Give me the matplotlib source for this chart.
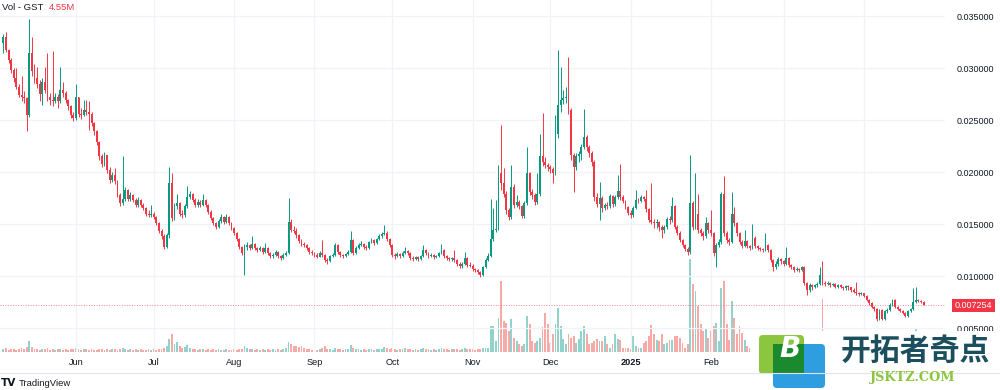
import numpy as np
import pandas as pd
import matplotlib
matplotlib.use("Agg")
import matplotlib.pyplot as plt
import matplotlib.dates as mdates
from matplotlib.patches import Rectangle, FancyBboxPatch

# ---------------- data (daily GST candles, prices in 1e-4 USDT) ----------------
START = "2024-05-04"
PRICE_UNIT = 1e-4
FIRST_OPEN = 324

CLOSE = [
    330, 317, 308, 298, 290, 282, 274, 272, 271, 255,
    314, 297, 290, 285, 275, 287, 279, 272, 269, 268,
    272, 268, 279, 276, 269, 263, 255, 252, 272, 256,
    255, 260, 258, 256, 247, 239, 229, 215, 208, 216,
    202, 192, 197, 191, 178, 170, 174, 183, 174, 178,
    173, 168, 173, 168, 165, 160, 159, 160, 157, 151,
    143, 138, 128, 139, 189, 156, 167, 170, 160, 159,
    167, 176, 179, 173, 168, 171, 168, 173, 168, 162,
    156, 151, 147, 153, 157, 152, 157, 151, 146, 141,
    136, 128, 122, 128, 130, 127, 131, 127, 125, 127,
    123, 127, 122, 119, 120, 123, 119, 117, 120, 122,
    152, 144, 143, 139, 134, 131, 130, 127, 123, 122,
    120, 118, 122, 120, 115, 114, 119, 120, 130, 123,
    120, 119, 121, 123, 135, 122, 127, 130, 131, 128,
    127, 133, 135, 132, 136, 138, 140, 141, 136, 130,
    120, 119, 121, 119, 122, 124, 122, 117, 116, 118,
    116, 119, 125, 122, 119, 120, 118, 119, 122, 125,
    119, 117, 116, 117, 115, 112, 110, 112, 117, 111,
    110, 107, 106, 104, 101, 109, 115, 119, 136, 144,
    145, 199, 189, 179, 163, 157, 186, 168, 171, 167,
    158, 170, 199, 181, 178, 171, 179, 215, 210, 207,
    205, 203, 199, 237, 264, 269, 271, 272, 260, 216,
    205, 215, 217, 224, 234, 224, 218, 210, 176, 169,
    175, 165, 168, 167, 177, 169, 176, 182, 176, 172,
    166, 161, 159, 165, 173, 172, 176, 174, 164, 154,
    152, 151, 152, 147, 144, 147, 155, 154, 167, 147,
    141, 135, 130, 126, 123, 170, 147, 160, 144, 141,
    138, 151, 144, 141, 122, 130, 133, 179, 141, 135,
    133, 160, 151, 141, 133, 129, 134, 129, 127, 137,
    129, 127, 126, 125, 130, 125, 115, 109, 112, 116,
    114, 112, 117, 111, 109, 106, 107, 106, 109, 93,
    87, 91, 89, 91, 92, 101, 93, 92, 93, 91,
    92, 89, 91, 89, 88, 90, 89, 87, 85, 84,
    83, 84, 81, 77, 74, 70, 68, 59, 67, 59,
    66, 67, 72, 77, 70, 68, 66, 64, 62, 66,
    68, 75, 77, 76, 75, 72.54,
]

HIGH = [
    333, 335, 318, 310, 300, 300, 285, 292, 278, 272,
    347, 330, 304, 301, 288, 290, 301, 314, 276, 316,
    276, 275, 301, 287, 278, 270, 264, 258, 285, 272,
    262, 269, 269, 268, 258, 248, 240, 230, 217, 219,
    216, 205, 200, 204, 192, 180, 215, 186, 184, 181,
    179, 175, 176, 174, 170, 166, 163, 168, 162, 158,
    152, 145, 140, 141, 205, 199, 170, 179, 171, 163,
    169, 187, 182, 180, 175, 174, 173, 179, 174, 169,
    163, 157, 152, 155, 160, 158, 160, 158, 152, 147,
    142, 137, 129, 131, 133, 131, 138, 132, 128, 129,
    128, 132, 128, 123, 122, 125, 124, 120, 122, 124,
    175, 155, 148, 146, 140, 136, 133, 131, 128, 125,
    123, 122, 124, 135, 121, 117, 120, 122, 132, 131,
    124, 121, 122, 125, 143, 136, 129, 132, 134, 132,
    130, 134, 137, 136, 137, 140, 142, 149, 143, 137,
    131, 122, 123, 122, 124, 128, 125, 123, 119, 119,
    119, 120, 130, 126, 123, 122, 121, 120, 123, 131,
    126, 120, 118, 118, 125, 116, 113, 113, 123, 118,
    113, 112, 108, 107, 105, 110, 117, 122, 174, 165,
    173, 207, 245, 204, 182, 165, 207, 188, 178, 173,
    168, 172, 224, 200, 184, 180, 199, 237, 257, 214,
    209, 207, 205, 255, 317, 301, 279, 282, 311, 262,
    218, 218, 220, 227, 261, 236, 226, 220, 212, 180,
    190, 177, 170, 171, 179, 178, 178, 197, 208, 178,
    173, 167, 163, 167, 183, 175, 178, 177, 183, 165,
    189, 155, 155, 153, 149, 149, 157, 158, 176, 168,
    149, 143, 136, 131, 128, 216, 172, 199, 179, 146,
    143, 157, 152, 163, 142, 132, 136, 181, 196, 143,
    137, 181, 166, 152, 142, 135, 144, 135, 130, 150,
    138, 130, 128, 127, 141, 131, 126, 116, 114, 118,
    117, 115, 128, 118, 112, 110, 109, 108, 110, 110,
    94, 93, 92, 92, 94, 109, 114, 95, 95, 94,
    93, 93, 92, 92, 90, 91, 91, 89, 88, 94,
    85, 85, 84, 82, 78, 75, 71, 69, 68, 68,
    67, 69, 74, 78, 78, 71, 69, 67, 65, 67,
    69, 88, 89, 78, 77, 76,
]

LOW = [
    314, 315, 305, 295, 287, 280, 272, 268, 266, 239,
    253, 292, 286, 281, 268, 264, 276, 268, 264, 263,
    266, 262, 266, 272, 266, 260, 252, 249, 250, 253,
    251, 254, 255, 240, 244, 236, 226, 212, 205, 206,
    199, 189, 190, 188, 176, 167, 168, 172, 172, 172,
    171, 166, 166, 166, 163, 158, 157, 157, 155, 149,
    141, 136, 126, 127, 137, 153, 154, 164, 158, 156,
    157, 165, 174, 171, 166, 166, 166, 167, 166, 160,
    154, 149, 145, 146, 151, 150, 151, 149, 144, 139,
    134, 126, 120, 101, 125, 125, 126, 125, 123, 124,
    121, 122, 120, 117, 117, 119, 117, 115, 116, 119,
    121, 142, 141, 137, 132, 129, 128, 125, 121, 120,
    118, 117, 118, 118, 113, 112, 113, 118, 119, 121,
    118, 117, 118, 120, 122, 120, 121, 126, 129, 126,
    125, 126, 132, 130, 131, 135, 137, 139, 134, 128,
    118, 116, 118, 117, 118, 121, 120, 115, 114, 115,
    114, 115, 118, 120, 117, 118, 116, 117, 118, 121,
    117, 115, 114, 114, 113, 110, 108, 108, 111, 109,
    109, 105, 104, 102, 99, 100, 108, 114, 118, 134,
    142, 144, 183, 176, 160, 154, 155, 165, 166, 164,
    156, 156, 168, 178, 174, 168, 169, 177, 206, 204,
    201, 199, 189, 197, 233, 258, 265, 266, 256, 212,
    181, 202, 210, 212, 222, 220, 214, 206, 172, 166,
    154, 162, 163, 164, 165, 166, 167, 174, 173, 170,
    164, 159, 156, 157, 164, 170, 171, 172, 162, 152,
    150, 146, 146, 143, 137, 141, 145, 150, 152, 145,
    139, 133, 128, 124, 120, 121, 144, 145, 141, 138,
    135, 137, 141, 138, 119, 109, 128, 131, 138, 132,
    130, 132, 148, 138, 131, 127, 128, 127, 125, 126,
    127, 125, 124, 123, 124, 123, 113, 105, 107, 110,
    112, 110, 111, 109, 107, 104, 105, 104, 105, 91,
    82, 85, 87, 88, 89, 91, 91, 90, 91, 89,
    90, 88, 88, 88, 87, 87, 87, 85, 84, 82,
    81, 82, 80, 76, 72, 69, 66, 57, 58, 58,
    58, 64, 66, 71, 69, 67, 65, 63, 61, 61,
    65, 67, 74, 75, 74, 72,
]

VOLUME_M = [
    3, 4, 2, 3, 3, 2, 3, 4, 3, 5,
    11, 5, 3, 3, 2, 3, 3, 4, 2, 3,
    2, 3, 3, 2, 3, 2, 3, 3, 4, 3,
    2, 3, 3, 2, 3, 2, 2, 3, 3, 2,
    3, 2, 3, 3, 2, 3, 4, 3, 2, 3,
    2, 3, 2, 3, 2, 2, 3, 2, 3, 2,
    3, 3, 4, 6, 13, 18, 8, 10, 6, 4,
    5, 7, 4, 3, 3, 2, 3, 3, 2, 3,
    2, 3, 2, 3, 2, 2, 3, 2, 2, 3,
    2, 3, 3, 6, 4, 3, 3, 2, 3, 2,
    3, 2, 3, 2, 3, 2, 3, 2, 3, 4,
    10, 8, 6, 6, 5, 6, 4, 3, 3, 2,
    3, 2, 3, 4, 6, 3, 3, 2, 4, 3,
    3, 2, 3, 3, 7, 4, 3, 3, 2, 3,
    2, 3, 3, 2, 3, 3, 3, 5, 4, 3,
    4, 3, 2, 3, 3, 4, 3, 3, 2, 3,
    2, 3, 4, 3, 3, 2, 3, 2, 3, 4,
    3, 3, 2, 3, 3, 3, 2, 3, 4, 3,
    3, 3, 2, 3, 3, 4, 4, 4, 26, 26,
    11, 34, 71, 31, 29, 21, 33, 14, 11, 8,
    6, 8, 36, 28, 11, 9, 11, 14, 25, 39,
    28, 9, 18, 28, 44, 26, 13, 8, 18, 14,
    16, 9, 13, 21, 26, 18, 8, 9, 11, 13,
    11, 11, 16, 8, 4, 8, 18, 13, 12, 4,
    4, 4, 3, 16, 6, 4, 4, 9, 11, 16,
    27, 18, 12, 11, 18, 8, 9, 12, 12, 16,
    16, 14, 9, 4, 8, 93, 68, 61, 46, 28,
    21, 23, 14, 21, 26, 29, 11, 64, 71, 28,
    12, 51, 34, 18, 26, 19, 12, 6, 4, 14,
    8, 6, 5, 4, 9, 7, 14, 12, 8, 9,
    6, 5, 11, 7, 5, 6, 4, 4, 5, 18,
    15, 9, 6, 5, 5, 20, 53, 10, 6, 5,
    4, 5, 4, 4, 3, 4, 3, 4, 5, 8,
    5, 4, 5, 7, 8, 9, 7, 12, 10, 9,
    7, 6, 8, 10, 7, 5, 4, 4, 5, 6,
    7, 15, 24, 8, 6, 4.55,
]

MONTH_TICKS = ["2024-06-01", "2024-07-01", "2024-08-01", "2024-09-01",
               "2024-10-01", "2024-11-01", "2024-12-01", "2025-01-01",
               "2025-02-01", "2025-03-01", "2025-04-01"]
# Mar / Apr labels are hidden behind the watermark in the reference
MONTH_LABELS = ["Jun", "Jul", "Aug", "Sep", "Oct", "Nov", "Dec", "2025",
                "Feb", "", ""]
PRICE_TICKS = [0.005, 0.010, 0.015, 0.020, 0.025, 0.030, 0.035]
LAST_PRICE = 0.007254
VOL_TITLE = "Vol - GST"
VOL_LAST = "4.55M"

# ---------------- styling ----------------
UP = "#089981"
DOWN = "#f23645"
UP_VOL = "#92d2cc"
DOWN_VOL = "#f7a9a7"
TEXT = "#131722"
GRID = "#f0f3fa"

plt.rcParams["font.family"] = ["Liberation Sans", "DejaVu Sans"]

n = min(len(CLOSE), len(HIGH), len(LOW), len(VOLUME_M))
close = np.array(CLOSE[:n], dtype=float) * PRICE_UNIT
high = np.array(HIGH[:n], dtype=float) * PRICE_UNIT
low = np.array(LOW[:n], dtype=float) * PRICE_UNIT
vol = np.array(VOLUME_M[:n], dtype=float)
open_ = np.concatenate([[FIRST_OPEN * PRICE_UNIT], close[:-1]])

dates = pd.date_range(START, periods=n, freq="D")
x = mdates.date2num(dates.to_pydatetime())
up = close >= open_
cols = np.where(up, UP, DOWN)
vcols = np.where(up, UP_VOL, DOWN_VOL)

W, H = 1000, 390
fig = plt.figure(figsize=(W / 100, H / 100), dpi=100)
fig.patch.set_facecolor("white")

pane_right = 945
pane_bottom = 352
ax = fig.add_axes([0, (H - pane_bottom) / H, pane_right / W, pane_bottom / H])
axv = ax.twinx()
ax.set_zorder(axv.get_zorder() + 1)
ax.patch.set_visible(False)

# volume
axv.bar(x, vol, width=0.72, color=vcols, linewidth=0, zorder=1)
axv.set_ylim(0, pane_bottom)
axv.set_yticks([])
for s in axv.spines.values():
    s.set_visible(False)

# candles
ax.vlines(x, low, high, colors=cols, linewidth=0.7, zorder=3)
body_h = np.maximum(np.abs(close - open_), 0.00004)
ax.bar(x, body_h, bottom=np.minimum(open_, close), width=0.72,
       color=cols, linewidth=0, zorder=4)

# axes limits (pixel-calibrated)
ax.set_ylim(0.035 - (pane_bottom - 16) / 10400, 0.035 + 16 / 10400)
ax.set_xlim(x[0] - 1.31, x[0] + (pane_right - 3.4) / 2.592)

# grid + ticks
mt = mdates.date2num(pd.to_datetime(MONTH_TICKS).to_pydatetime())
ax.set_xticks(mt)
ax.set_xticklabels(MONTH_LABELS)
ax.set_yticks(PRICE_TICKS)
ax.set_yticklabels([f"{v:.6f}" for v in PRICE_TICKS])
ax.yaxis.tick_right()
ax.grid(True, color=GRID, linewidth=0.9, zorder=0)
ax.set_axisbelow(True)
ax.tick_params(axis="x", length=0, pad=4.0, labelsize=6.6, colors=TEXT)
ax.tick_params(axis="y", length=0, pad=8.6, labelsize=6.5, colors=TEXT)
for lbl in ax.get_xticklabels():
    if lbl.get_text() == "2025":
        lbl.set_fontweight("bold")
for s in ax.spines.values():
    s.set_visible(False)

# last price line
ax.axhline(LAST_PRICE, color="#f58a93", linewidth=0.7, linestyle=(0, (1, 1.6)), zorder=2)

# ---------------- overlay in pixel coordinates ----------------
ov = fig.add_axes([0, 0, 1, 1], zorder=10)
ov.set_xlim(0, W)
ov.set_ylim(H, 0)
ov.axis("off")
ov.patch.set_visible(False)

# last price tag
ov.add_patch(Rectangle((952, 298.5), 43, 13, facecolor=DOWN, edgecolor="none"))
ov.text(973.5, 305.2, f"{LAST_PRICE:.6f}", color="white", fontsize=6.5,
        ha="center", va="center")

# volume legend
ov.text(2, 7, VOL_TITLE, color=TEXT, fontsize=6.8, ha="left", va="center")
ov.text(49, 7, VOL_LAST, color=DOWN, fontsize=6.8, ha="left", va="center")

# bottom line and TradingView mark
ov.plot([0, W], [372.5, 372.5], color="#e0e3eb", linewidth=0.8)
ov.text(1, 383.5, "TV", color=TEXT, fontsize=7.6, fontweight="heavy",
        ha="left", va="center", family=["DejaVu Sans"])
ov.text(19, 383.5, "TradingView", color=TEXT, fontsize=6.8, ha="left", va="center")

# watermark
ov.add_patch(Rectangle((750, 331), 250, 59, facecolor="white", edgecolor="none"))
ov.add_patch(FancyBboxPatch((759, 335), 45, 39, boxstyle="round,pad=0,rounding_size=4",
                            facecolor="#8cc63f", edgecolor="none"))
ov.add_patch(FancyBboxPatch((773, 344), 52, 44, boxstyle="round,pad=0,rounding_size=4",
                            facecolor="#2f9ee0", edgecolor="none"))
ov.add_patch(Rectangle((773, 344), 31, 30, facecolor="#1b8a2e", edgecolor="none"))
ov.text(790, 349, "B", color="white", fontsize=20, fontweight="bold",
        fontstyle="italic", ha="center", va="center", family=["DejaVu Sans"])
ov.text(915, 351, "开拓者奇点", color="#1c4f5e", fontsize=21.5, fontweight="bold",
        ha="center", va="center", family=["Noto Sans CJK SC", "DejaVu Sans"])
ov.text(913, 377.5, "JSKTZ.COM", color="#8cc63f", fontsize=9.3, fontweight="bold",
        ha="center", va="center", family=["DejaVu Serif"])

fig.savefig("out.png", dpi=100, facecolor="white")
